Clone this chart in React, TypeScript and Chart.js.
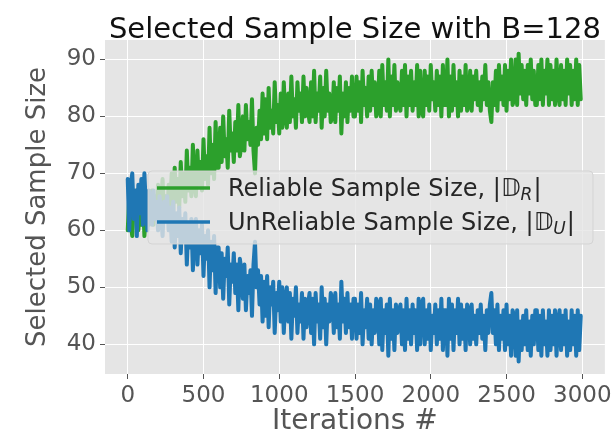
import React, { useEffect, useRef } from "react";
import { Chart, registerables } from "chart.js";

Chart.register(...registerables);

const TITLE = "Selected Sample Size with B=128";
const X_LABEL = "Iterations #";
const Y_LABEL = "Selected Sample Size";
const ITER_STEP = 10;

const reliable = [
  60, 66, 61, 59, 65, 62, 67, 60, 64, 61, 66, 59, 63, 65, 61,
  62, 67, 61, 66, 63, 68, 62, 65, 69, 63, 66, 62, 68, 64, 70,
  63, 71, 65, 69, 64, 72, 66, 70, 65, 74, 67, 71, 66, 75, 68,
  66, 74, 68, 72, 67, 76, 69, 73, 68, 78, 70, 75, 69, 79, 71,
  71, 78, 72, 80, 73, 76, 71, 81, 74, 77, 72, 79, 74, 82, 73,
  75, 80, 74, 82, 76, 79, 75, 83, 74, 70, 78, 75, 81, 76, 84,
  77, 83, 76, 85, 78, 81, 77, 86, 79, 82, 77, 84, 78, 86, 80,
  78, 84, 79, 87, 80, 83, 78, 86, 81, 84, 79, 87, 80, 85, 81,
  79, 86, 80, 88, 79, 84, 81, 87, 78, 85, 80, 88, 81, 84, 79,
  80, 86, 79, 85, 81, 87, 77, 84, 80, 86, 79, 85, 81, 87, 80,
  80, 87, 81, 86, 79, 88, 82, 85, 80, 87, 81, 88, 82, 86, 80,
  81, 88, 80, 89, 82, 86, 81, 90, 80, 87, 82, 89, 81, 86, 82,
  81, 88, 82, 89, 80, 87, 82, 88, 81, 86, 82, 89, 80, 88, 81,
  80, 88, 82, 87, 81, 89, 83, 86, 81, 88, 82, 87, 80, 89, 82,
  82, 90, 80, 87, 81, 89, 82, 86, 80, 88, 81, 87, 82, 89, 81,
  82, 88, 81, 87, 83, 88, 82, 86, 81, 87, 83, 89, 82, 86, 81,
  79, 86, 82, 88, 81, 89, 83, 87, 82, 89, 81, 88, 83, 90, 82,
  83, 90, 82, 91, 84, 89, 83, 88, 82, 89, 84, 90, 83, 88, 82,
  82, 89, 83, 90, 82, 88, 84, 90, 82, 89, 83, 88, 82, 90, 84,
  82, 89, 83, 88, 82, 90, 84, 89, 82, 88, 83, 90, 82, 89, 83,
];

const unreliable = [
  69, 60, 68, 70, 62, 67, 59, 68, 63, 69, 61, 70, 64, 60, 67,
  66, 61, 67, 62, 65, 60, 66, 63, 59, 65, 62, 66, 60, 64, 58,
  65, 57, 63, 59, 64, 56, 62, 58, 63, 54, 61, 57, 62, 53, 60,
  62, 54, 60, 56, 61, 52, 59, 55, 60, 50, 58, 53, 59, 49, 57,
  57, 50, 56, 48, 55, 52, 57, 47, 54, 51, 56, 49, 54, 46, 55,
  53, 48, 54, 46, 52, 49, 53, 45, 54, 58, 50, 53, 47, 52, 44,
  51, 45, 52, 43, 50, 47, 51, 42, 49, 46, 51, 44, 50, 42, 48,
  50, 44, 49, 41, 48, 45, 50, 42, 47, 44, 49, 41, 48, 43, 47,
  49, 42, 48, 40, 49, 44, 47, 41, 50, 43, 48, 40, 47, 44, 49,
  48, 42, 49, 43, 47, 41, 51, 44, 48, 42, 49, 43, 47, 41, 48,
  48, 41, 47, 42, 49, 40, 46, 43, 48, 41, 47, 40, 46, 42, 48,
  47, 40, 48, 39, 46, 42, 47, 38, 48, 41, 46, 39, 47, 42, 46,
  47, 40, 46, 39, 48, 41, 46, 40, 47, 42, 46, 39, 48, 40, 47,
  48, 40, 46, 41, 47, 39, 45, 42, 47, 40, 46, 41, 48, 39, 46,
  46, 38, 48, 41, 47, 39, 46, 42, 48, 40, 47, 41, 46, 39, 47,
  46, 40, 47, 41, 45, 40, 46, 42, 47, 41, 45, 39, 46, 42, 47,
  49, 42, 46, 40, 47, 39, 45, 41, 46, 39, 47, 40, 45, 38, 46,
  45, 38, 46, 37, 44, 39, 45, 40, 46, 39, 44, 38, 45, 40, 46,
  46, 39, 45, 38, 46, 40, 44, 38, 46, 39, 45, 40, 46, 38, 44,
  46, 39, 45, 40, 46, 38, 44, 39, 46, 40, 45, 38, 46, 39, 45,
];

const xTicks = [0, 500, 1000, 1500, 2000, 2500, 3000];
const yTicks = [40, 50, 60, 70, 80, 90];

const legendItems = [
  { text: "Reliable Sample Size, |", sym: "\u{1D53B}", sub: "R", color: "#2ca02c" },
  { text: "UnReliable Sample Size, |", sym: "\u{1D53B}", sub: "U", color: "#1f77b4" },
];

const FONT = "'DejaVu Sans', 'Liberation Sans', sans-serif";

const bgPlugin = {
  id: "axesBg",
  beforeDraw(chart: any) {
    const { ctx, chartArea: a } = chart;
    ctx.save();
    ctx.fillStyle = "#e5e5e5";
    ctx.fillRect(a.left, a.top, a.right - a.left, a.bottom - a.top);
    ctx.restore();
  },
};

const legendPlugin = {
  id: "insideLegend",
  afterDatasetsDraw(chart: any) {
    const { ctx, chartArea: a } = chart;
    const x0 = a.left + 43;
    const y0 = a.top + 131;
    const w = 445;
    const h = 73;
    ctx.save();
    ctx.beginPath();
    const r = 4;
    ctx.moveTo(x0 + r, y0);
    ctx.lineTo(x0 + w - r, y0);
    ctx.quadraticCurveTo(x0 + w, y0, x0 + w, y0 + r);
    ctx.lineTo(x0 + w, y0 + h - r);
    ctx.quadraticCurveTo(x0 + w, y0 + h, x0 + w - r, y0 + h);
    ctx.lineTo(x0 + r, y0 + h);
    ctx.quadraticCurveTo(x0, y0 + h, x0, y0 + h - r);
    ctx.lineTo(x0, y0 + r);
    ctx.quadraticCurveTo(x0, y0, x0 + r, y0);
    ctx.closePath();
    ctx.fillStyle = "rgba(229,229,229,0.8)";
    ctx.fill();
    ctx.strokeStyle = "rgba(210,210,210,0.9)";
    ctx.lineWidth = 1;
    ctx.stroke();

    legendItems.forEach((it, i) => {
      const cy = y0 + 17 + i * 34;
      ctx.strokeStyle = it.color;
      ctx.lineWidth = 3.5;
      ctx.lineCap = "butt";
      ctx.beginPath();
      ctx.moveTo(x0 + 9, cy);
      ctx.lineTo(x0 + 62, cy);
      ctx.stroke();

      const base = cy + 8;
      let x = x0 + 80;
      ctx.fillStyle = "#262626";
      ctx.textBaseline = "alphabetic";
      ctx.textAlign = "left";
      ctx.font = `24px ${FONT}`;
      ctx.fillText(it.text, x, base);
      x += ctx.measureText(it.text).width;
      ctx.font = `italic 24px ${FONT}`;
      ctx.fillText(it.sym, x, base);
      x += ctx.measureText(it.sym).width;
      ctx.font = `italic 17px ${FONT}`;
      ctx.fillText(it.sub, x, base + 4);
      x += ctx.measureText(it.sub).width + 1;
      ctx.font = `24px ${FONT}`;
      ctx.fillText("|", x, base);
    });
    ctx.restore();
  },
};

export default function App() {
  const ref = useRef<HTMLCanvasElement | null>(null);

  useEffect(() => {
    if (!ref.current) return;
    const toPoints = (arr: number[]) => arr.map((v, i) => ({ x: i * ITER_STEP, y: v }));
    const common = {
      borderWidth: 4,
      pointRadius: 0,
      tension: 0,
      borderCapStyle: "round" as const,
      borderJoinStyle: "round" as const,
    };
    const chart = new Chart(ref.current, {
      type: "line",
      data: {
        datasets: [
          {
            label: "UnReliable Sample Size",
            data: toPoints(unreliable),
            borderColor: "#1f77b4",
            backgroundColor: "#1f77b4",
            order: 0,
            ...common,
          },
          {
            label: "Reliable Sample Size",
            data: toPoints(reliable),
            borderColor: "#2ca02c",
            backgroundColor: "#2ca02c",
            order: 1,
            ...common,
          },
        ],
      },
      options: {
        animation: false,
        responsive: false,
        events: [],
        layout: { padding: { left: 0, right: 10, top: 0, bottom: 0 } },
        plugins: {
          legend: { display: false },
          tooltip: { enabled: false },
          title: {
            display: true,
            text: TITLE,
            fullSize: false,
            color: "#111",
            font: { family: FONT, size: 29, weight: "normal", lineHeight: 1 },
            padding: { top: 16, bottom: -5 },
          },
        },
        scales: {
          x: {
            type: "linear",
            min: -150,
            max: 3149,
            afterBuildTicks: (s: any) => {
              s.ticks = xTicks.map((v) => ({ value: v }));
            },
            afterFit: (s: any) => {
              s.height = 62;
            },
            grid: { color: "#ffffff", lineWidth: 1, tickColor: "#555", tickLength: 5, drawTicks: true },
            border: { display: false },
            ticks: {
              color: "#555",
              font: { family: FONT, size: 23 },
              padding: 3,
              maxRotation: 0,
              autoSkip: false,
              callback: (v: any) => String(v),
            },
            title: {
              display: true,
              text: X_LABEL,
              color: "#555",
              font: { family: FONT, size: 28 },
              padding: { top: 0, bottom: -3 },
            },
          },
          y: {
            type: "linear",
            min: 34.8,
            max: 93.4,
            afterBuildTicks: (s: any) => {
              s.ticks = yTicks.map((v) => ({ value: v }));
            },
            afterFit: (s: any) => {
              s.width = 105;
            },
            grid: { color: "#ffffff", lineWidth: 1, tickColor: "#555", tickLength: 5, drawTicks: true },
            border: { display: false },
            ticks: {
              color: "#555",
              font: { family: FONT, size: 23 },
              padding: 4,
              autoSkip: false,
              callback: (v: any) => String(v),
            },
            title: {
              display: true,
              text: Y_LABEL,
              color: "#555",
              font: { family: FONT, size: 26 },
              padding: { top: 23, bottom: 0 },
            },
          },
        },
      },
      plugins: [bgPlugin, legendPlugin],
    });
    return () => chart.destroy();
  }, []);

  return (
    <div style={{ position: "fixed", left: 0, top: 0, width: 615, height: 436, background: "#fff" }}>
      <canvas ref={ref} width={615} height={436} style={{ display: "block", width: 615, height: 436 }} />
    </div>
  );
}
